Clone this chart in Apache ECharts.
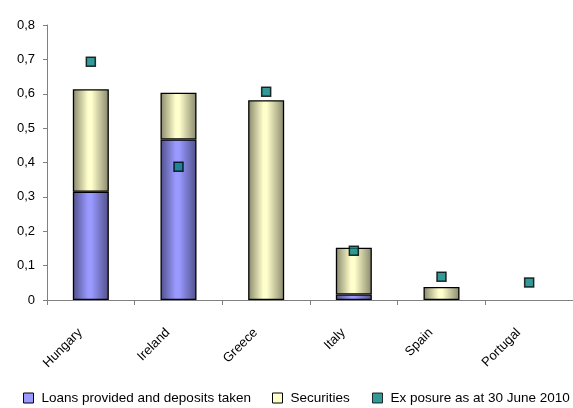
<!DOCTYPE html>
<html>
<head>
<meta charset="utf-8">
<script src="https://cdn.jsdelivr.net/npm/echarts@6/dist/echarts.min.js"></script>
<style>
  html, body { margin: 0; padding: 0; background: #ffffff; }
  #chart { width: 573px; height: 408px; }
</style>
</head>
<body>
<div id="chart"></div>
<script>
// Country exposure figures
const countries = ['Hungary', 'Ireland', 'Greece', 'Italy', 'Spain', 'Portugal'];
const loansDeposits = [0.315, 0.467, '-', 0.016, '-', '-'];
const securities = [0.298, 0.136, 0.581, 0.136, 0.038, '-'];
const exposureJune2010 = [0.693, 0.388, 0.606, 0.143, 0.068, 0.051];
const yTicks = { min: 0, max: 0.8, step: 0.1 };

const seriesNames = ['Loans provided and deposits taken', 'Securities', 'Ex posure as at 30 June 2010'];
const seriesColors = ['#9999ff', '#ffffcc', '#008080'];

const FONT = '"Liberation Sans", Arial, sans-serif';

// Horizontal shading gives the bars a rounded, cylinder-like look
function shade(edge, mid) {
  return new echarts.graphic.LinearGradient(0, 0, 1, 0, [
    { offset: 0, color: edge },
    { offset: 0.42, color: mid },
    { offset: 0.52, color: mid },
    { offset: 1, color: edge }
  ]);
}

// One legend block per entry so each key sits at its own spot on the bottom row
const legendLeft = [23, 272, 372];
const legends = seriesNames.map((name, i) => ({
  top: 391,
  left: legendLeft[i],
  padding: 0,
  itemWidth: 10,
  itemHeight: 10,
  icon: 'rect',
  selectedMode: false,
  textStyle: { fontSize: 13.5, fontFamily: FONT, color: '#000', padding: [0, 0, 0, 3] },
  data: [{ name, itemStyle: { color: seriesColors[i], borderColor: '#000', borderWidth: 1 } }]
}));

const chart = echarts.init(document.getElementById('chart'), null, { renderer: 'canvas' });

chart.setOption({
  backgroundColor: '#ffffff',
  animation: false,
  textStyle: { fontFamily: FONT, color: '#000' },
  grid: { left: 47, right: 0, top: 25, bottom: 108, containLabel: false },
  legend: legends,
  xAxis: {
    type: 'category',
    data: countries,
    boundaryGap: true,
    axisLine: { lineStyle: { color: '#808080', width: 1 } },
    axisTick: { show: true, length: 5, lineStyle: { color: '#808080' } },
    axisLabel: {
      rotate: 45, fontSize: 13, color: '#000', fontFamily: FONT,
      margin: 20, padding: [0, 15, 0, 0], interval: 0
    }
  },
  yAxis: {
    type: 'value',
    min: yTicks.min,
    max: yTicks.max,
    interval: yTicks.step,
    splitLine: { show: false },
    axisLine: { show: true, lineStyle: { color: '#808080', width: 1 } },
    axisTick: { show: true, length: 4, lineStyle: { color: '#808080' } },
    axisLabel: {
      fontSize: 13, color: '#000', fontFamily: FONT, margin: 12,
      formatter: v => (v === 0 ? '0' : v.toFixed(1).replace('.', ','))
    }
  },
  series: [
    {
      name: seriesNames[0],
      type: 'bar',
      stack: 'total',
      barWidth: 36,
      data: loansDeposits,
      itemStyle: { color: shade('#50508a', seriesColors[0]), borderColor: '#000', borderWidth: 1.3 }
    },
    {
      name: seriesNames[1],
      type: 'bar',
      stack: 'total',
      barWidth: 36,
      data: securities,
      itemStyle: { color: shade('#88886c', seriesColors[1]), borderColor: '#000', borderWidth: 1.3 }
    },
    {
      name: seriesNames[2],
      type: 'scatter',
      symbol: 'rect',
      symbolSize: 9,
      data: exposureJune2010,
      itemStyle: { color: seriesColors[2], borderColor: '#000', borderWidth: 1.5 },
      z: 5
    }
  ]
});
</script>
</body>
</html>
